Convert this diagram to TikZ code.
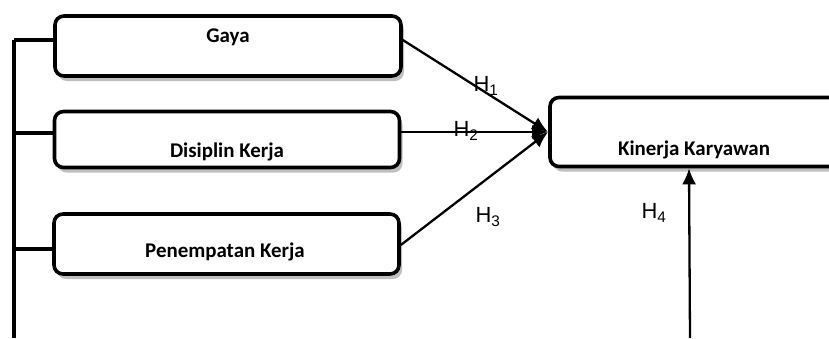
\documentclass[tikz,border=0pt]{standalone}
\usepackage{fontspec}
\setmainfont{Carlito}
\newfontfamily\hfont{Liberation Sans}
\usetikzlibrary{arrows.meta,shadows}

\tikzset{
    varbox/.style={draw, line width=3.6bp, rounded corners=9bp, fill=white,
        drop shadow={shadow xshift=3bp, shadow yshift=-5bp, opacity=0.5},
        minimum height=#1, inner sep=0pt},
    varlabel/.style={font=\fontsize{21}{24}\selectfont\bfseries},
    hlabel/.style={font=\hfont\fontsize{22}{24}\selectfont, inner sep=0pt},
    hyparrow/.style={line width=2.3bp, arrows={-Latex[length=16bp, width=14bp]}},
}

\begin{document}
\begin{tikzpicture}[x=1bp, y=-1bp]
    \useasboundingbox (0,0) rectangle (829,338);

    % Draw the boxes
    \node[varbox=60bp, minimum width=346bp] (gaya) at (228,46) {};
    \node[varbox=56bp, minimum width=345bp] (disiplin) at (227,139.5) {};
    \node[varbox=60bp, minimum width=345bp] (penempatan) at (226.5,244) {};
    \node[varbox=69bp, minimum width=300bp] (kinerja) at (700,132) {};

    % Labels inside the boxes
    \node[varlabel] (gayatxt) at (228,37) {Gaya};
    \node[varlabel] (disiplintxt) at (227,152) {Disiplin Kerja};
    \node[varlabel] (penempatantxt) at (225,252) {Penempatan Kerja};
    \node[varlabel] (kinerjatxt) at (694,150) {Kinerja Karyawan};

    % Left bracket
    \coordinate (top) at (14,40);
    \coordinate (bot) at (14,338);
    \draw[line width=3.4bp] (top) -- (bot);
    \draw[line width=3.4bp] (top) -- (top -| gaya.west);
    \draw[line width=3.4bp] (14,133) -- (disiplin.west |- 0,133);
    \draw[line width=3.4bp] (14,249) -- (penempatan.west |- 0,249);

    % Arrows and labels
    \coordinate (meet) at (548,132);
    \draw[hyparrow] (gaya.east |- top) -- (meet);
    \draw[hyparrow] (disiplin.east |- meet) -- (meet);
    \draw[hyparrow] (penempatan.east |- 0,245) -- (meet);
    \coordinate (h4src) at (690,338);
    \draw[hyparrow] (h4src) -- ([xshift=-11bp]kinerja.south);

    \node[hlabel] (h1) at (486,86) {H\textsubscript{1}};
    \node[hlabel] (h2) at (466,131) {H\textsubscript{2}};
    \node[hlabel] (h3) at (488,217) {H\textsubscript{3}};
    \node[hlabel] (h4) at (654,213) {H\textsubscript{4}};
\end{tikzpicture}
\end{document}
